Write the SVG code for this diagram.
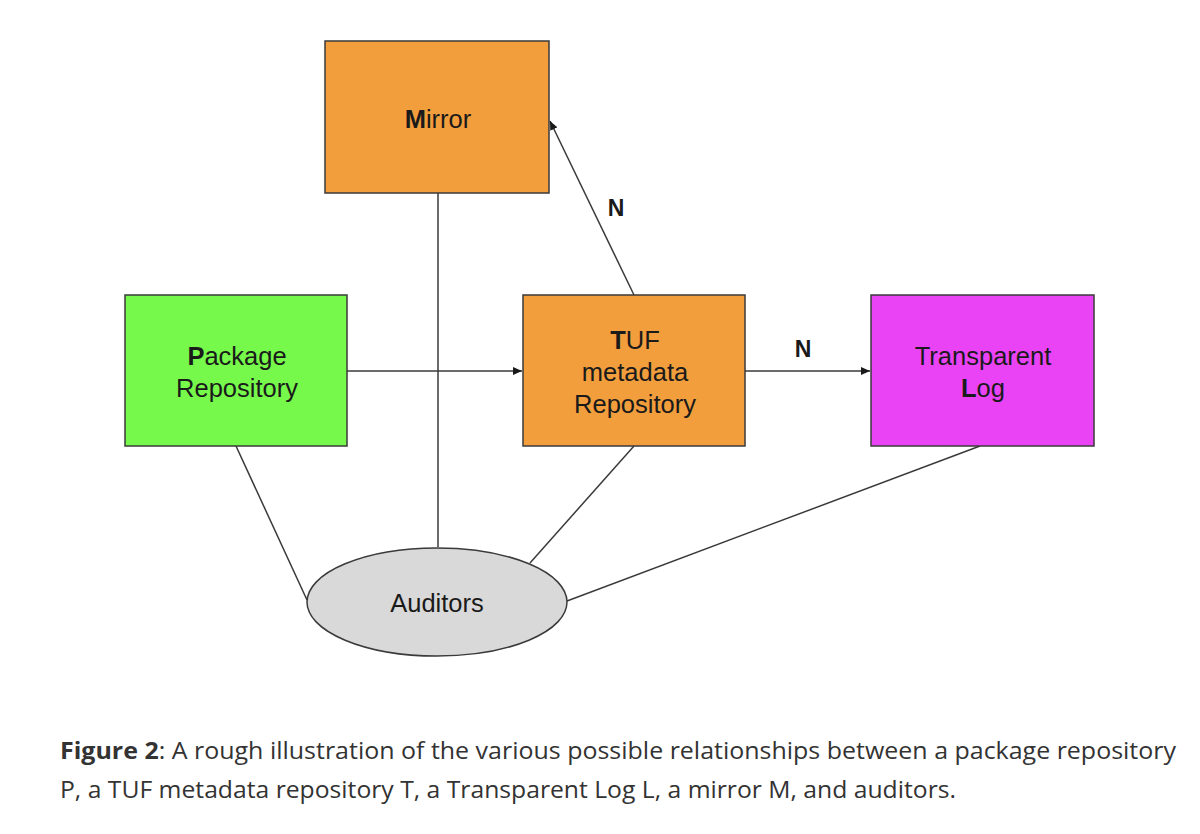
<svg xmlns="http://www.w3.org/2000/svg" width="1200" height="834" viewBox="0 0 1200 834">
<style>
.box{stroke:#3a3a3a;stroke-width:1.5}
.lbl{font-family:"Liberation Sans",Arial,sans-serif;font-size:25.5px;fill:#1a1a1a;text-anchor:middle}
.b{font-weight:bold}
.n{font-family:"Liberation Sans",Arial,sans-serif;font-size:23px;font-weight:bold;fill:#1a1a1a;text-anchor:middle}
.ln{stroke:#3a3a3a;stroke-width:1.5;fill:none}
.cap{font-family:"Open Sans","Noto Sans",sans-serif;font-size:24px;fill:#333333}
</style>
<defs>
<marker id="ah" markerWidth="10" markerHeight="8" refX="9" refY="4" orient="auto" markerUnits="userSpaceOnUse">
<path d="M0,0 L9,4 L0,8 Z" fill="#1a1a1a"/>
</marker>
</defs>
<rect width="1200" height="834" fill="#ffffff"/>
<g id="connectors">
<line class="ln" x1="438" y1="193" x2="438" y2="547"/>
<line class="ln" x1="347" y1="371" x2="522" y2="371" marker-end="url(#ah)"/>
<line class="ln" x1="745" y1="371" x2="870" y2="371" marker-end="url(#ah)"/>
<line class="ln" x1="634" y1="295" x2="550" y2="121" marker-end="url(#ah)"/>
<line class="ln" x1="236" y1="446" x2="307" y2="600"/>
<line class="ln" x1="634" y1="446" x2="530" y2="563"/>
<line class="ln" x1="980" y1="446" x2="567" y2="601"/>
<text class="n" x="616" y="216">N</text>
<text class="n" x="803" y="357">N</text>
</g>
<g id="mirror">
<rect class="box" x="325" y="41" width="224" height="152" fill="#f29e3d"/>
<text class="lbl" x="438" y="128"><tspan class="b">M</tspan>irror</text>
</g>
<g id="package">
<rect class="box" x="125" y="295" width="222" height="151" fill="#76f94a"/>
<text class="lbl" x="237" y="365"><tspan class="b">P</tspan>ackage</text>
<text class="lbl" x="237" y="397">Repository</text>
</g>
<g id="tuf">
<rect class="box" x="523" y="295" width="222" height="151" fill="#f29e3d"/>
<text class="lbl" x="635" y="349"><tspan class="b">T</tspan>UF</text>
<text class="lbl" x="635" y="381">metadata</text>
<text class="lbl" x="635" y="413">Repository</text>
</g>
<g id="tlog">
<rect class="box" x="871" y="295" width="223" height="151" fill="#ea43f5"/>
<text class="lbl" x="983" y="365">Transparent</text>
<text class="lbl" x="983" y="397"><tspan class="b">L</tspan>og</text>
</g>
<g id="auditors">
<ellipse class="box" cx="437" cy="602" rx="130" ry="54" fill="#d9d9d9"/>
<text class="lbl" x="437" y="612">Auditors</text>
</g>
<g id="caption">
<text class="cap" x="60" y="759" textLength="1116" lengthAdjust="spacingAndGlyphs"><tspan font-weight="bold">Figure 2</tspan>: A rough illustration of the various possible relationships between a package repository</text>
<text class="cap" x="60" y="798" textLength="896" lengthAdjust="spacingAndGlyphs">P, a TUF metadata repository T, a Transparent Log L, a mirror M, and auditors.</text>
</g>
</svg>
